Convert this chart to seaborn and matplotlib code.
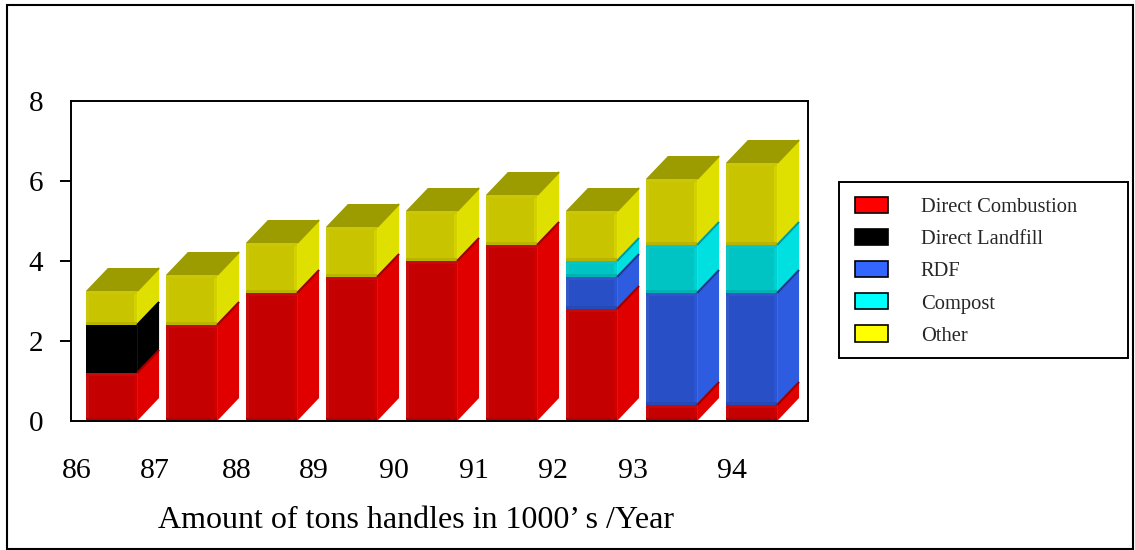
import numpy as np
import pandas as pd
import matplotlib.pyplot as plt
import seaborn as sns
from matplotlib.patches import Polygon, Patch, Rectangle
from matplotlib.colors import to_rgb

# values (1000 tons / year)
years = ["86", "87", "88", "89", "90", "91", "92", "93", "94"]
direct_combustion = [1.2, 2.4, 3.2, 3.6, 4.0, 4.4, 2.8, 0.4, 0.4]
direct_landfill = [1.2, 0, 0, 0, 0, 0, 0, 0, 0]
rdf = [0, 0, 0, 0, 0, 0, 0.8, 2.8, 2.8]
compost = [0, 0, 0, 0, 0, 0, 0.4, 1.2, 1.2]
other = [0.85, 1.25, 1.25, 1.25, 1.25, 1.25, 1.25, 1.65, 2.05]
series_names = ["Direct Combustion", "Direct Landfill", "RDF", "Compost", "Other"]
y_ticks = [0, 2, 4, 6, 8]
x_label = "Amount of tons handles in 1000\u2019 s /Year"

df = pd.DataFrame({"year": years,
                   "Direct Combustion": direct_combustion,
                   "Direct Landfill": direct_landfill,
                   "RDF": rdf,
                   "Compost": compost,
                   "Other": other})

front = {"Direct Combustion": "#c40000", "Direct Landfill": "#000000",
         "RDF": "#284fc6", "Compost": "#00c3c3", "Other": "#c8c400"}
side = {"Direct Combustion": "#e00000", "Direct Landfill": "#000000",
        "RDF": "#2e5ce0", "Compost": "#00e0e0", "Other": "#e0e000"}
top = {"Direct Combustion": "#9c0000", "Direct Landfill": "#000000",
       "RDF": "#1c3890", "Compost": "#009c9c", "Other": "#9c9c00"}
legend_colors = ["#ff0000", "#000000", "#3366ff", "#00ffff", "#ffff00"]


def mix(c1, c2, t):
    a, b = np.array(to_rgb(c1)), np.array(to_rgb(c2))
    return tuple(a * (1 - t) + b * t)


sns.set_style("white", {"axes.edgecolor": "black"})
plt.rcParams["font.family"] = ["Liberation Serif", "DejaVu Serif"]

W, H = 1135, 550
fig = plt.figure(figsize=(W / 100, H / 100), dpi=100)
ax = fig.add_axes([71 / W, 1 - 421 / H, 737 / W, 320 / H])

bar_w = 0.64
dx, dy = 0.275, 0.575
bev_x, bev_y = 0.04, 0.07

# front faces
bottom = np.zeros(len(df))
for name in series_names:
    sns.barplot(x=df["year"], y=df[name], bottom=bottom, color=front[name],
                width=bar_w, saturation=1, linewidth=0, edgecolor="none", ax=ax)
    bottom = bottom + df[name].to_numpy()

# bevels, side and top faces for the 3d look
for i in range(len(df)):
    base = 0.0
    last = series_names[0]
    x0 = i - bar_w / 2
    x1 = i + bar_w / 2
    for name in series_names:
        h = df.loc[i, name]
        if h <= 0:
            continue
        if name != "Direct Landfill":
            ax.add_patch(Rectangle((x0, base), bev_x, h, lw=0,
                                   facecolor=mix(front[name], "white", 0.05)))
            ax.add_patch(Rectangle((x1 - bev_x, base), bev_x, h, lw=0,
                                   facecolor=mix(front[name], side[name], 0.45)))
            ax.add_patch(Rectangle((x0, base + h - bev_y), bar_w, bev_y, lw=0,
                                   facecolor=mix(front[name], "white", 0.04)))
            ax.add_patch(Rectangle((x0, base), bar_w, bev_y, lw=0,
                                   facecolor=mix(front[name], "black", 0.08)))
        ax.add_patch(Polygon([(x1, base), (x1 + dx, base + dy),
                              (x1 + dx, base + h + dy), (x1, base + h)],
                             closed=True, facecolor=side[name], edgecolor="none"))
        ax.plot([x1, x1 + dx], [base + h, base + h + dy], color=top[name], lw=1.5,
                solid_capstyle="butt")
        base += h
        last = name
    ax.add_patch(Polygon([(x0, base), (x0 + dx, base + dy),
                          (x1 + dx, base + dy), (x1, base)],
                         closed=True, facecolor=top[last], edgecolor="none"))

ax.set_xlim(-0.506, -0.506 + 737 / 80)
ax.set_ylim(0, 8)

ax.set_yticks(y_ticks)
ax.set_yticklabels([str(t) for t in y_ticks])
ax.tick_params(axis="y", direction="out", length=8, width=1.4, pad=12,
               labelsize=21, left=True, colors="black")
yt = ax.yaxis.get_major_ticks()
yt[0].tick1line.set_visible(False)
yt[-1].tick1line.set_visible(False)

tick_pos = [-0.44, 0.54, 1.56, 2.53, 3.53, 4.53, 5.52, 6.52, 7.76]
ax.set_xticks(tick_pos)
ax.set_xticklabels(years)
ax.tick_params(axis="x", length=0, pad=27, labelsize=21.5, colors="black")

ax.set_ylabel("")
ax.set_xlabel(x_label, fontsize=23, color="black")
ax.xaxis.set_label_coords((416 - 71) / 737, (421 - 520) / 320)
ax.xaxis.label.set_va("center")

for sp in ax.spines.values():
    sp.set_visible(True)
    sp.set_linewidth(1.4)
    sp.set_color("black")

# legend
handles = [Patch(facecolor=c, edgecolor="black", linewidth=1.2) for c in legend_colors]
fig.legend(handles, series_names, loc="upper left",
           bbox_to_anchor=(855 / W, 1 - 197 / H), frameon=False, fontsize=14.8,
           handlelength=1.6, handleheight=0.83, handletextpad=1.6,
           labelspacing=0.58, borderpad=0, borderaxespad=0)
fig.patches.append(Rectangle((839 / W, 1 - 358 / H), (1128 - 839) / W, (358 - 182) / H,
                             transform=fig.transFigure, fill=False, lw=1.4, ec="black"))

# outer frame
fig.patches.append(Rectangle((7 / W, 1 - 549 / H), (1133 - 7) / W, (549 - 5) / H,
                             transform=fig.transFigure, fill=False, lw=1.5, ec="black"))

fig.savefig("out.png", dpi=100)
